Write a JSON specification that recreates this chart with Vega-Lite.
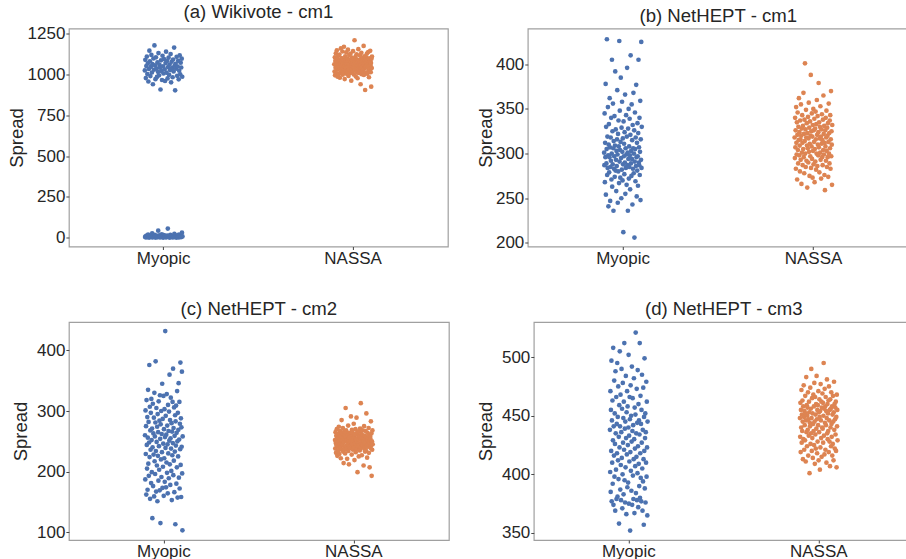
{
"$schema":"https://vega.github.io/schema/vega-lite/v6.json",
"padding":{"left":5.9,"top":2.5,"right":0,"bottom":0},
"columns":2,
"align":"none",
"spacing":{"row":31.5,"column":25.9},
"config":{"font":"Liberation Sans","view":{"stroke":"#a0a0a0","strokeWidth":1.2},
"axis":{"labelFont":"Liberation Sans","labelFontSize":17,"labelColor":"#262626","tickColor":"#444444","tickSize":3,"labelPadding":1,"domain":false,"grid":false,"titleFont":"Liberation Sans","titleFontSize":18.5,"titleFontWeight":"normal","titleColor":"#262626"},
"title":{"font":"Liberation Sans","fontSize":18.6,"fontWeight":"normal","color":"#262626","anchor":"middle","offset":3,"baseline":"alphabetic"}},
"datasets":{
"aM":[{"v":1025},{"v":3},{"v":1090},{"v":8},{"v":978},{"v":1},{"v":1052},{"v":12},{"v":1110},{"v":5},{"v":1003},{"v":2},{"v":1068},{"v":18},{"v":957},{"v":6},{"v":1034},{"v":0},{"v":1146},{"v":9},{"v":1081},{"v":4},{"v":990},{"v":14},{"v":1047},{"v":7},{"v":1120},{"v":2},{"v":1012},{"v":25},{"v":1063},{"v":1},{"v":940},{"v":10},{"v":1098},{"v":5},{"v":1029},{"v":3},{"v":1178},{"v":16},{"v":1056},{"v":8},{"v":971},{"v":0},{"v":1105},{"v":6},{"v":1038},{"v":11},{"v":985},{"v":4},{"v":1074},{"v":2},{"v":1016},{"v":42},{"v":1131},{"v":7},{"v":995},{"v":13},{"v":1059},{"v":1},{"v":1042},{"v":9},{"v":908},{"v":3},{"v":1087},{"v":5},{"v":1021},{"v":20},{"v":966},{"v":2},{"v":1115},{"v":8},{"v":1050},{"v":0},{"v":1006},{"v":15},{"v":1095},{"v":6},{"v":1032},{"v":4},{"v":960},{"v":10},{"v":1070},{"v":1},{"v":1140},{"v":7},{"v":1011},{"v":3},{"v":1083},{"v":12},{"v":976},{"v":55},{"v":1045},{"v":5},{"v":1103},{"v":2},{"v":998},{"v":9},{"v":1061},{"v":0},{"v":1027},{"v":17},{"v":1125},{"v":4},{"v":952},{"v":8},{"v":1078},{"v":6},{"v":1040},{"v":1},{"v":983},{"v":11},{"v":1092},{"v":3},{"v":1019},{"v":7},{"v":1165},{"v":22},{"v":1054},{"v":2},{"v":903},{"v":5},{"v":1066},{"v":13},{"v":1035},{"v":0},{"v":1108},{"v":9},{"v":992},{"v":4},{"v":1049},{"v":6},{"v":1084},{"v":1},{"v":970},{"v":18},{"v":1023},{"v":3},{"v":1117},{"v":8},{"v":1001},{"v":10},{"v":1072},{"v":2},{"v":1043},{"v":5},{"v":1097},{"v":30},{"v":986},{"v":7}],
"aN":[{"v":1062},{"v":1018},{"v":1105},{"v":995},{"v":1083},{"v":1041},{"v":1130},{"v":1007},{"v":1071},{"v":1052},{"v":1148},{"v":1029},{"v":1094},{"v":986},{"v":1066},{"v":1115},{"v":1038},{"v":1077},{"v":1003},{"v":1059},{"v":1122},{"v":1045},{"v":980},{"v":1088},{"v":1013},{"v":1069},{"v":1160},{"v":1034},{"v":1100},{"v":1056},{"v":1024},{"v":1078},{"v":1141},{"v":999},{"v":1063},{"v":1036},{"v":1092},{"v":1010},{"v":1170},{"v":1049},{"v":1085},{"v":972},{"v":1058},{"v":1111},{"v":1027},{"v":1074},{"v":1043},{"v":1136},{"v":1005},{"v":1067},{"v":1039},{"v":1098},{"v":1016},{"v":1080},{"v":1152},{"v":1050},{"v":991},{"v":1072},{"v":1031},{"v":1119},{"v":1064},{"v":1008},{"v":1090},{"v":1047},{"v":1127},{"v":1021},{"v":1076},{"v":962},{"v":1055},{"v":1103},{"v":1033},{"v":1086},{"v":1011},{"v":1068},{"v":1143},{"v":1042},{"v":1097},{"v":1000},{"v":1060},{"v":1081},{"v":1210},{"v":1026},{"v":1073},{"v":1049},{"v":1108},{"v":988},{"v":1065},{"v":1037},{"v":1124},{"v":1015},{"v":1091},{"v":1053},{"v":977},{"v":1079},{"v":1035},{"v":1155},{"v":1061},{"v":1009},{"v":1087},{"v":1044},{"v":1070},{"v":1118},{"v":1022},{"v":1058},{"v":940},{"v":1095},{"v":1040},{"v":1133},{"v":1002},{"v":1075},{"v":1048},{"v":1101},{"v":1019},{"v":1084},{"v":1030},{"v":1066},{"v":1175},{"v":997},{"v":1057},{"v":1112},{"v":1036},{"v":1082},{"v":905},{"v":1069},{"v":1046},{"v":1106},{"v":1012},{"v":1093},{"v":1054},{"v":1128},{"v":1073},{"v":1004},{"v":1089},{"v":1041},{"v":1138},{"v":1020},{"v":1062},{"v":983},{"v":1099},{"v":1051},{"v":1028},{"v":1080},{"v":1145},{"v":1057},{"v":1014},{"v":1071},{"v":925},{"v":1096},{"v":1039},{"v":1110}],
"bM":[{"v":301},{"v":287},{"v":345},{"v":268},{"v":312},{"v":296},{"v":378},{"v":254},{"v":330},{"v":289},{"v":305},{"v":428},{"v":276},{"v":319},{"v":284},{"v":352},{"v":298},{"v":241},{"v":310},{"v":333},{"v":279},{"v":296},{"v":362},{"v":307},{"v":247},{"v":285},{"v":318},{"v":292},{"v":340},{"v":271},{"v":300},{"v":405},{"v":263},{"v":325},{"v":288},{"v":356},{"v":306},{"v":236},{"v":314},{"v":283},{"v":297},{"v":342},{"v":274},{"v":309},{"v":392},{"v":281},{"v":327},{"v":293},{"v":258},{"v":303},{"v":286},{"v":316},{"v":371},{"v":299},{"v":245},{"v":322},{"v":280},{"v":337},{"v":308},{"v":267},{"v":426},{"v":291},{"v":348},{"v":304},{"v":273},{"v":313},{"v":385},{"v":295},{"v":250},{"v":329},{"v":282},{"v":358},{"v":302},{"v":270},{"v":317},{"v":288},{"v":212},{"v":336},{"v":297},{"v":311},{"v":277},{"v":324},{"v":290},{"v":366},{"v":255},{"v":306},{"v":284},{"v":343},{"v":299},{"v":265},{"v":319},{"v":396},{"v":287},{"v":301},{"v":236},{"v":328},{"v":294},{"v":350},{"v":272},{"v":308},{"v":285},{"v":339},{"v":298},{"v":260},{"v":321},{"v":410},{"v":289},{"v":303},{"v":275},{"v":355},{"v":294},{"v":315},{"v":243},{"v":332},{"v":283},{"v":306},{"v":368},{"v":278},{"v":300},{"v":326},{"v":206},{"v":291},{"v":346},{"v":305},{"v":269},{"v":318},{"v":286},{"v":377},{"v":296},{"v":252},{"v":312},{"v":281},{"v":334},{"v":297},{"v":264},{"v":323},{"v":405},{"v":290},{"v":307},{"v":287},{"v":340},{"v":276},{"v":302},{"v":359},{"v":248},{"v":316},{"v":293},{"v":425},{"v":284},{"v":330}],
"bN":[{"v":318},{"v":295},{"v":340},{"v":307},{"v":326},{"v":283},{"v":352},{"v":312},{"v":299},{"v":335},{"v":271},{"v":321},{"v":346},{"v":304},{"v":289},{"v":330},{"v":315},{"v":362},{"v":298},{"v":324},{"v":309},{"v":280},{"v":337},{"v":316},{"v":293},{"v":355},{"v":320},{"v":266},{"v":328},{"v":301},{"v":343},{"v":312},{"v":287},{"v":331},{"v":305},{"v":368},{"v":296},{"v":322},{"v":278},{"v":338},{"v":314},{"v":401},{"v":300},{"v":327},{"v":285},{"v":349},{"v":318},{"v":292},{"v":334},{"v":309},{"v":262},{"v":323},{"v":306},{"v":341},{"v":290},{"v":317},{"v":357},{"v":302},{"v":329},{"v":275},{"v":311},{"v":336},{"v":297},{"v":320},{"v":388},{"v":284},{"v":325},{"v":308},{"v":345},{"v":294},{"v":319},{"v":273},{"v":332},{"v":303},{"v":350},{"v":288},{"v":326},{"v":313},{"v":339},{"v":268},{"v":305},{"v":328},{"v":291},{"v":347},{"v":316},{"v":282},{"v":333},{"v":300},{"v":360},{"v":321},{"v":286},{"v":342},{"v":310},{"v":298},{"v":324},{"v":379},{"v":307},{"v":335},{"v":279},{"v":317},{"v":330},{"v":301},{"v":353},{"v":293},{"v":319},{"v":272},{"v":327},{"v":311},{"v":344},{"v":296},{"v":315},{"v":287},{"v":338},{"v":304},{"v":365},{"v":322},{"v":299},{"v":331},{"v":276},{"v":312},{"v":259},{"v":326},{"v":308},{"v":340},{"v":292},{"v":318},{"v":348},{"v":303},{"v":285},{"v":329},{"v":320},{"v":296},{"v":334},{"v":274},{"v":313},{"v":356},{"v":300},{"v":323},{"v":289},{"v":337},{"v":306},{"v":343},{"v":283},{"v":316},{"v":370},{"v":297},{"v":325},{"v":310},{"v":265},{"v":332}],
"cM":[{"v":260},{"v":187},{"v":301},{"v":229},{"v":275},{"v":162},{"v":318},{"v":244},{"v":205},{"v":290},{"v":170},{"v":256},{"v":335},{"v":213},{"v":282},{"v":193},{"v":248},{"v":376},{"v":224},{"v":307},{"v":155},{"v":268},{"v":236},{"v":297},{"v":181},{"v":320},{"v":252},{"v":199},{"v":271},{"v":123},{"v":240},{"v":312},{"v":176},{"v":263},{"v":228},{"v":289},{"v":159},{"v":330},{"v":217},{"v":258},{"v":196},{"v":281},{"v":382},{"v":234},{"v":167},{"v":305},{"v":249},{"v":210},{"v":274},{"v":151},{"v":295},{"v":226},{"v":265},{"v":185},{"v":316},{"v":242},{"v":203},{"v":284},{"v":169},{"v":326},{"v":254},{"v":115},{"v":278},{"v":220},{"v":300},{"v":191},{"v":262},{"v":232},{"v":345},{"v":173},{"v":287},{"v":208},{"v":246},{"v":325},{"v":160},{"v":270},{"v":222},{"v":303},{"v":183},{"v":257},{"v":432},{"v":239},{"v":292},{"v":174},{"v":261},{"v":215},{"v":328},{"v":198},{"v":276},{"v":245},{"v":164},{"v":310},{"v":230},{"v":267},{"v":189},{"v":299},{"v":251},{"v":360},{"v":212},{"v":285},{"v":178},{"v":255},{"v":322},{"v":238},{"v":201},{"v":280},{"v":153},{"v":266},{"v":227},{"v":315},{"v":247},{"v":370},{"v":194},{"v":272},{"v":218},{"v":306},{"v":166},{"v":259},{"v":233},{"v":293},{"v":113},{"v":283},{"v":243},{"v":309},{"v":180},{"v":264},{"v":207},{"v":333},{"v":250},{"v":157},{"v":297},{"v":225},{"v":269},{"v":346},{"v":190},{"v":253},{"v":315},{"v":172},{"v":279},{"v":237},{"v":380},{"v":211},{"v":288},{"v":158},{"v":273},{"v":241},{"v":365},{"v":197},{"v":103},{"v":258}],
"cN":[{"v":252},{"v":238},{"v":265},{"v":247},{"v":231},{"v":259},{"v":243},{"v":270},{"v":255},{"v":226},{"v":248},{"v":262},{"v":235},{"v":257},{"v":241},{"v":274},{"v":250},{"v":229},{"v":261},{"v":245},{"v":267},{"v":240},{"v":253},{"v":222},{"v":258},{"v":246},{"v":285},{"v":236},{"v":263},{"v":251},{"v":244},{"v":272},{"v":233},{"v":256},{"v":214},{"v":249},{"v":266},{"v":239},{"v":260},{"v":254},{"v":230},{"v":257},{"v":305},{"v":242},{"v":268},{"v":237},{"v":251},{"v":263},{"v":221},{"v":248},{"v":259},{"v":245},{"v":276},{"v":234},{"v":253},{"v":212},{"v":264},{"v":241},{"v":256},{"v":247},{"v":239},{"v":262},{"v":250},{"v":291},{"v":243},{"v":258},{"v":228},{"v":269},{"v":246},{"v":255},{"v":264},{"v":236},{"v":252},{"v":244},{"v":279},{"v":240},{"v":257},{"v":219},{"v":261},{"v":249},{"v":246},{"v":270},{"v":232},{"v":254},{"v":242},{"v":289},{"v":251},{"v":237},{"v":265},{"v":199},{"v":255},{"v":241},{"v":260},{"v":247},{"v":225},{"v":266},{"v":243},{"v":258},{"v":235},{"v":271},{"v":237},{"v":253},{"v":313},{"v":240},{"v":262},{"v":248},{"v":227},{"v":256},{"v":244},{"v":268},{"v":260},{"v":243},{"v":254},{"v":210},{"v":250},{"v":275},{"v":238},{"v":259},{"v":246},{"v":233},{"v":248},{"v":267},{"v":235},{"v":257},{"v":296},{"v":242},{"v":253},{"v":223},{"v":264},{"v":252},{"v":241},{"v":256},{"v":245},{"v":272},{"v":231},{"v":249},{"v":261},{"v":207},{"v":247},{"v":258},{"v":254},{"v":239},{"v":283},{"v":244},{"v":263},{"v":193},{"v":250},{"v":236},{"v":268},{"v":245}],
"dM":[{"v":438},{"v":402},{"v":471},{"v":385},{"v":455},{"v":420},{"v":497},{"v":377},{"v":446},{"v":410},{"v":463},{"v":392},{"v":429},{"v":508},{"v":374},{"v":441},{"v":416},{"v":480},{"v":398},{"v":452},{"v":426},{"v":369},{"v":488},{"v":435},{"v":404},{"v":466},{"v":379},{"v":443},{"v":418},{"v":495},{"v":381},{"v":449},{"v":412},{"v":475},{"v":396},{"v":432},{"v":358},{"v":459},{"v":423},{"v":505},{"v":441},{"v":387},{"v":468},{"v":408},{"v":378},{"v":436},{"v":490},{"v":414},{"v":456},{"v":371},{"v":400},{"v":478},{"v":427},{"v":448},{"v":383},{"v":462},{"v":421},{"v":512},{"v":395},{"v":439},{"v":376},{"v":445},{"v":406},{"v":484},{"v":431},{"v":366},{"v":453},{"v":417},{"v":471},{"v":389},{"v":458},{"v":425},{"v":393},{"v":440},{"v":502},{"v":375},{"v":433},{"v":411},{"v":466},{"v":447},{"v":352},{"v":419},{"v":476},{"v":403},{"v":450},{"v":386},{"v":428},{"v":492},{"v":374},{"v":437},{"v":465},{"v":399},{"v":442},{"v":379},{"v":413},{"v":482},{"v":430},{"v":367},{"v":457},{"v":422},{"v":407},{"v":451},{"v":521},{"v":384},{"v":435},{"v":415},{"v":473},{"v":378},{"v":444},{"v":401},{"v":489},{"v":424},{"v":372},{"v":460},{"v":409},{"v":446},{"v":390},{"v":434},{"v":512},{"v":380},{"v":418},{"v":467},{"v":397},{"v":443},{"v":377},{"v":455},{"v":427},{"v":485},{"v":405},{"v":369},{"v":438},{"v":394},{"v":474},{"v":413},{"v":357},{"v":449},{"v":420},{"v":499},{"v":388},{"v":431},{"v":452},{"v":376},{"v":436},{"v":410},{"v":479},{"v":398},{"v":462},{"v":423},{"v":365},{"v":445}],
"dN":[{"v":448},{"v":432},{"v":461},{"v":419},{"v":455},{"v":440},{"v":472},{"v":427},{"v":451},{"v":437},{"v":463},{"v":445},{"v":413},{"v":458},{"v":430},{"v":476},{"v":449},{"v":421},{"v":454},{"v":442},{"v":429},{"v":467},{"v":452},{"v":411},{"v":446},{"v":483},{"v":436},{"v":459},{"v":424},{"v":450},{"v":457},{"v":438},{"v":470},{"v":416},{"v":447},{"v":433},{"v":462},{"v":453},{"v":401},{"v":444},{"v":441},{"v":474},{"v":426},{"v":456},{"v":435},{"v":490},{"v":448},{"v":420},{"v":465},{"v":431},{"v":452},{"v":414},{"v":443},{"v":468},{"v":437},{"v":458},{"v":425},{"v":478},{"v":445},{"v":409},{"v":466},{"v":434},{"v":451},{"v":422},{"v":460},{"v":439},{"v":484},{"v":447},{"v":418},{"v":455},{"v":428},{"v":459},{"v":442},{"v":471},{"v":412},{"v":453},{"v":436},{"v":464},{"v":449},{"v":404},{"v":454},{"v":423},{"v":477},{"v":446},{"v":431},{"v":462},{"v":415},{"v":457},{"v":440},{"v":469},{"v":439},{"v":461},{"v":427},{"v":450},{"v":495},{"v":433},{"v":456},{"v":417},{"v":473},{"v":444},{"v":458},{"v":421},{"v":466},{"v":442},{"v":454},{"v":410},{"v":448},{"v":481},{"v":435},{"v":460},{"v":430},{"v":452},{"v":437},{"v":463},{"v":419},{"v":475},{"v":446},{"v":428},{"v":455},{"v":407},{"v":464},{"v":440},{"v":456},{"v":424},{"v":470},{"v":443},{"v":432},{"v":458},{"v":416},{"v":451},{"v":426},{"v":467},{"v":445},{"v":412},{"v":453},{"v":479},{"v":438},{"v":460},{"v":422},{"v":447},{"v":457},{"v":434},{"v":462},{"v":420},{"v":449},{"v":406},{"v":468},{"v":441},{"v":455},{"v":429}]
},
"concat":[
{"width":379,"height":218,"title":"(a) Wikivote - cm1",
"layer":[
{"data":{"name":"aM"},"transform":[{"window":[{"op":"row_number","as":"i"}]}],"mark":{"type":"circle","size":22,"opacity":1,"color":"#4c72b0"},
"encoding":{"x":{"datum":"Myopic","type":"nominal","scale":{"domain":["Myopic","NASSA"],"paddingInner":0.8,"paddingOuter":0.4,"align":0.5},"axis":{"title":null,"labelAngle":0}},"xOffset":{"field":"i","type":"nominal"},"y":{"field":"v","type":"quantitative","scale":{"domain":[-55,1282],"nice":false,"zero":false},"axis":{"title":"Spread","values":[0,250,500,750,1000,1250],"format":"d","titlePadding":0.7}}}},
{"data":{"name":"aN"},"transform":[{"window":[{"op":"row_number","as":"i"}]}],"mark":{"type":"circle","size":22,"opacity":1,"color":"#dd8452"},
"encoding":{"x":{"datum":"NASSA","type":"nominal"},"xOffset":{"field":"i","type":"nominal"},"y":{"field":"v","type":"quantitative"}}}
]},
{"width":381,"height":218,"title":"(b) NetHEPT - cm1",
"layer":[
{"data":{"name":"bM"},"transform":[{"window":[{"op":"row_number","as":"i"}]}],"mark":{"type":"circle","size":22,"opacity":1,"color":"#4c72b0"},
"encoding":{"x":{"datum":"Myopic","type":"nominal","scale":{"domain":["Myopic","NASSA"],"paddingInner":0.8,"paddingOuter":0.4,"align":0.5},"axis":{"title":null,"labelAngle":0}},"xOffset":{"field":"i","type":"nominal"},"y":{"field":"v","type":"quantitative","scale":{"domain":[196,440],"nice":false,"zero":false},"axis":{"title":"Spread","values":[200,250,300,350,400],"format":"d","titlePadding":0}}}},
{"data":{"name":"bN"},"transform":[{"window":[{"op":"row_number","as":"i"}]}],"mark":{"type":"circle","size":22,"opacity":1,"color":"#dd8452"},
"encoding":{"x":{"datum":"NASSA","type":"nominal"},"xOffset":{"field":"i","type":"nominal"},"y":{"field":"v","type":"quantitative"}}}
]},
{"width":380,"height":218,"title":"(c) NetHEPT - cm2",
"layer":[
{"data":{"name":"cM"},"transform":[{"window":[{"op":"row_number","as":"i"}]}],"mark":{"type":"circle","size":22,"opacity":1,"color":"#4c72b0"},
"encoding":{"x":{"datum":"Myopic","type":"nominal","scale":{"domain":["Myopic","NASSA"],"paddingInner":0.8,"paddingOuter":0.4,"align":0.5},"axis":{"title":null,"labelAngle":0}},"xOffset":{"field":"i","type":"nominal"},"y":{"field":"v","type":"quantitative","scale":{"domain":[87,447],"nice":false,"zero":false},"axis":{"title":"Spread","values":[100,200,300,400],"format":"d","titlePadding":5.8}}}},
{"data":{"name":"cN"},"transform":[{"window":[{"op":"row_number","as":"i"}]}],"mark":{"type":"circle","size":22,"opacity":1,"color":"#dd8452"},
"encoding":{"x":{"datum":"NASSA","type":"nominal"},"xOffset":{"field":"i","type":"nominal"},"y":{"field":"v","type":"quantitative"}}}
]},
{"width":380,"height":218,"title":"(d) NetHEPT - cm3",
"layer":[
{"data":{"name":"dM"},"transform":[{"window":[{"op":"row_number","as":"i"}]}],"mark":{"type":"circle","size":22,"opacity":1,"color":"#4c72b0"},
"encoding":{"x":{"datum":"Myopic","type":"nominal","scale":{"domain":["Myopic","NASSA"],"paddingInner":0.8,"paddingOuter":0.4,"align":0.5},"axis":{"title":null,"labelAngle":0}},"xOffset":{"field":"i","type":"nominal"},"y":{"field":"v","type":"quantitative","scale":{"domain":[344,530],"nice":false,"zero":false},"axis":{"title":"Spread","values":[350,400,450,500],"format":"d","titlePadding":5.8}}}},
{"data":{"name":"dN"},"transform":[{"window":[{"op":"row_number","as":"i"}]}],"mark":{"type":"circle","size":22,"opacity":1,"color":"#dd8452"},
"encoding":{"x":{"datum":"NASSA","type":"nominal"},"xOffset":{"field":"i","type":"nominal"},"y":{"field":"v","type":"quantitative"}}}
]}
]}
